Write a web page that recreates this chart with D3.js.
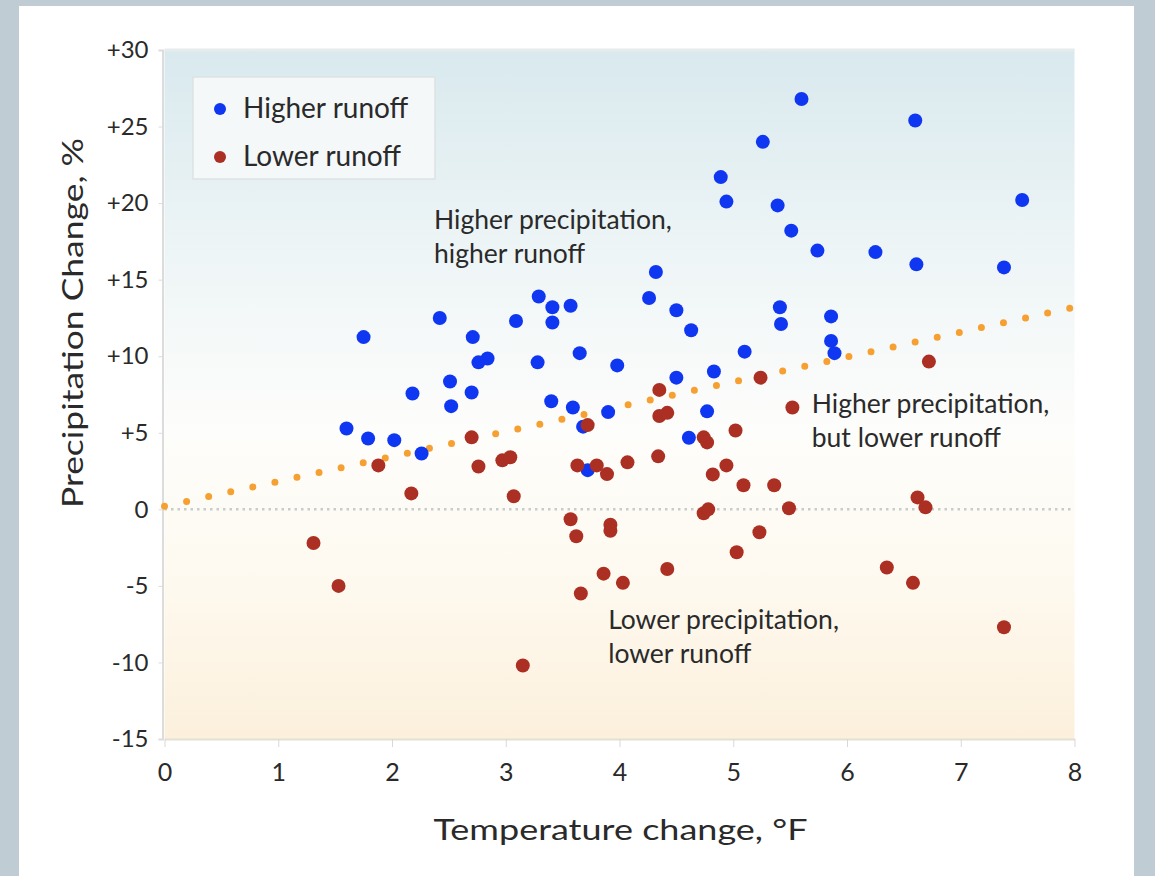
<!DOCTYPE html>
<html>
<head>
<meta charset="utf-8">
<script src="https://cdn.jsdelivr.net/npm/d3@7"></script>
<style>
  body { margin: 0; background: #bfccd4; }
  text { font-family: Lato, "Open Sans", sans-serif; fill: #2a2a2a; }
</style>
</head>
<body>
<div id="chart"></div>
<script>
// data: [temperature change °F, precipitation change %]
var higherRunoff = [
  [5.60, 26.8], [6.60, 25.4], [5.26, 24.0], [4.89, 21.7], [4.94, 20.1],
  [5.39, 19.85], [7.54, 20.2], [5.51, 18.2], [5.74, 16.9], [6.25, 16.8],
  [6.61, 16.0], [7.38, 15.8], [4.32, 15.5], [3.29, 13.9], [4.26, 13.8],
  [3.41, 13.2], [3.57, 13.3], [4.50, 13.0], [5.41, 13.2], [5.42, 12.1],
  [5.86, 12.6], [4.63, 11.7], [5.86, 11.0], [5.89, 10.2], [5.10, 10.3],
  [2.42, 12.5], [3.09, 12.3], [3.41, 12.2], [1.75, 11.25], [2.71, 11.25],
  [2.84, 9.85], [2.76, 9.6], [3.28, 9.6], [3.65, 10.2], [3.98, 9.4],
  [2.51, 8.35], [4.50, 8.6], [4.83, 9.0], [2.18, 7.57], [2.70, 7.63],
  [2.52, 6.74], [3.40, 7.06], [3.59, 6.65], [4.77, 6.4], [3.90, 6.35],
  [1.60, 5.28], [1.79, 4.63], [2.02, 4.52], [2.26, 3.65], [3.68, 5.4],
  [3.72, 2.56], [4.61, 4.68]
];

var lowerRunoff = [
  [1.88, 2.87], [2.17, 1.04], [2.70, 4.7], [2.76, 2.8], [2.97, 3.2],
  [3.04, 3.4], [3.07, 0.85], [3.72, 5.5], [3.63, 2.87], [3.80, 2.87],
  [3.89, 2.3], [4.07, 3.07], [4.35, 7.8], [4.35, 6.1], [4.42, 6.3],
  [4.34, 3.46], [4.74, 4.7], [4.77, 4.37], [4.82, 2.28], [4.94, 2.87],
  [5.02, 5.15], [5.09, 1.57], [5.24, 8.6], [5.36, 1.57], [5.52, 6.65],
  [6.72, 9.65],
  [1.31, -2.2], [1.53, -5.0], [3.15, -10.2], [3.66, -5.5], [3.86, -4.2],
  [4.03, -4.8], [4.42, -3.9], [5.03, -2.8], [6.35, -3.8], [6.58, -4.8],
  [7.38, -7.7], [5.23, -1.5], [3.57, -0.65], [3.62, -1.76], [3.92, -1.0],
  [3.92, -1.4], [4.74, -0.26], [4.78, 0.0], [5.49, 0.07], [6.62, 0.78],
  [6.69, 0.13]
];

var xTicks = [0, 1, 2, 3, 4, 5, 6, 7, 8];
var yTicks = [30, 25, 20, 15, 10, 5, 0, -5, -10, -15];
var trendLine = [[0, 0.2], [8, 13.2]];

var legendItems = ['Higher runoff', 'Lower runoff'];
var zoneLabels = [
  { lines: ['Higher precipitation,', 'higher runoff'], x: 2.37, y: 18.3 },
  { lines: ['Higher precipitation,', 'but lower runoff'], x: 5.69, y: 6.3 },
  { lines: ['Lower precipitation,', 'lower runoff'], x: 3.9, y: -7.8 }
];

var width = 1155,
  height = 876;

var blue = '#0f37f2', red = '#ab2f22';

var svg = d3.select('#chart').append('svg')
    .attr('width', width)
    .attr('height', height);

// white panel
svg.append('rect')
  .attr('x', 19).attr('y', 6)
  .attr('width', 1115).attr('height', height)
  .attr('fill', '#ffffff');

var x = d3.scaleLinear().domain([0, 8]).range([164.5, 1074.5]);
var y = d3.scaleLinear().domain([-15, 30]).range([739, 50]);

// plot background gradient
var grad = svg.append('defs').append('linearGradient')
  .attr('id', 'bg')
  .attr('x1', '0%').attr('y1', '0%')
  .attr('x2', '0%').attr('y2', '100%');
grad.append('stop').attr('offset', '0%').attr('stop-color', '#d9e9ee');
grad.append('stop').attr('offset', '30%').attr('stop-color', '#eef5f6');
grad.append('stop').attr('offset', '55%').attr('stop-color', '#fdfdfb');
grad.append('stop').attr('offset', '75%').attr('stop-color', '#fefaf1');
grad.append('stop').attr('offset', '100%').attr('stop-color', '#fcf0dc');

svg.append('rect')
  .attr('x', x(0)).attr('y', y(30))
  .attr('width', x(8) - x(0)).attr('height', y(-15) - y(30))
  .attr('fill', 'url(#bg)');

svg.append('line')
  .attr('x1', x(0)).attr('x2', x(8))
  .attr('y1', y(30)).attr('y2', y(30))
  .attr('stroke', '#e6ebec').attr('stroke-width', 3);

// zero line
svg.append('line')
  .attr('x1', x(0)).attr('x2', x(8))
  .attr('y1', y(0)).attr('y2', y(0))
  .attr('stroke', '#c9cccc')
  .attr('stroke-width', 2.5)
  .attr('stroke-dasharray', '2.5 4');

// axes
var yAxis = d3.axisLeft(y)
  .tickValues(yTicks)
  .tickSize(4)
  .tickPadding(10)
  .tickFormat(function(d) { return d > 0 ? '+' + d : String(d); });

var gy = svg.append('g')
  .attr('transform', 'translate(' + (x(0) - 2) + ',0)')
  .call(yAxis);
gy.select('.domain').attr('stroke', '#dcdcdc').attr('stroke-width', 2);
gy.selectAll('.tick line').attr('stroke', '#dcdcdc');
gy.selectAll('.tick text')
  .style('font-size', '24px')
  .style('font-family', 'Lato, sans-serif')
  .attr('fill', '#1e1e1e');

var xAxis = d3.axisBottom(x)
  .tickValues(xTicks)
  .tickSize(8)
  .tickSizeOuter(0)
  .tickPadding(16);

var gx = svg.append('g')
  .attr('transform', 'translate(0,' + y(-15) + ')')
  .call(xAxis);
gx.select('.domain').attr('stroke', '#e2dfd6').attr('stroke-width', 2);
gx.selectAll('.tick line').attr('stroke', '#d8d8d8');
gx.selectAll('.tick text')
  .style('font-size', '25px')
  .style('font-family', 'Lato, sans-serif')
  .attr('fill', '#1e1e1e');

// axis titles
svg.append('text')
  .attr('x', (x(0) + x(8)) / 2 + 1)
  .attr('y', 840)
  .attr('text-anchor', 'middle')
  .style('font-size', '28px')
  .attr('textLength', 374)
  .attr('lengthAdjust', 'spacingAndGlyphs')
  .text('Temperature change, °F');

svg.append('text')
  .attr('transform', 'translate(83,' + 323 + ') rotate(-90)')
  .attr('text-anchor', 'middle')
  .style('font-size', '28px')
  .attr('textLength', 370)
  .attr('lengthAdjust', 'spacingAndGlyphs')
  .text('Precipitation Change, %');

// trend line, dotted orange
svg.append('line')
  .attr('x1', x(trendLine[0][0])).attr('y1', y(trendLine[0][1]))
  .attr('x2', x(trendLine[1][0])).attr('y2', y(trendLine[1][1]))
  .attr('stroke', '#f6a032')
  .attr('stroke-width', 7)
  .attr('stroke-linecap', 'round')
  .attr('stroke-dasharray', '0 22.6');

// points
svg.append('g').selectAll('circle')
  .data(higherRunoff)
  .enter().append('circle')
  .attr('cx', function(d) { return x(d[0]); })
  .attr('cy', function(d) { return y(d[1]); })
  .attr('r', 7)
  .attr('fill', blue);

svg.append('g').selectAll('circle')
  .data(lowerRunoff)
  .enter().append('circle')
  .attr('cx', function(d) { return x(d[0]); })
  .attr('cy', function(d) { return y(d[1]); })
  .attr('r', 7)
  .attr('fill', red);

// zone labels
zoneLabels.forEach(function(z) {
  var t = svg.append('text')
    .attr('x', x(z.x))
    .attr('y', y(z.y))
    .style('font-size', '26.5px')
    .attr('fill', '#333');
  z.lines.forEach(function(l, i) {
    t.append('tspan')
      .attr('x', x(z.x))
      .attr('dy', i === 0 ? 0 : 34)
      .text(l);
  });
});

// legend
var key = svg.append('g').attr('transform', 'translate(193,77)');
key.append('rect')
  .attr('width', 242).attr('height', 102)
  .attr('fill', '#f4f8f9')
  .attr('stroke', '#dde2e4')
  .attr('stroke-width', 1.5);

legendItems.forEach(function(l, i) {
  key.append('circle')
    .attr('cx', 27).attr('cy', 32 + i * 48)
    .attr('r', 6)
    .attr('fill', i === 0 ? blue : red);
  key.append('text')
    .attr('x', 50).attr('y', 31 + i * 48)
    .attr('dy', '0.35em')
    .style('font-size', '28px')
    .attr('fill', '#222')
    .text(l);
});
</script>
</body>
</html>
